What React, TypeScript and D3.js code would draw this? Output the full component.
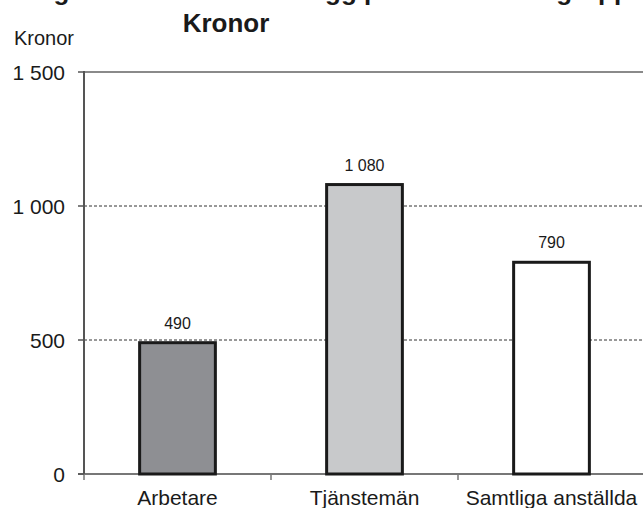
import React from "react";
import * as d3 from "d3";

const categories = ["Arbetare", "Tjänstemän", "Samtliga anställda"];
const values = [490, 1080, 790];
const valueLabels = ["490", "1 080", "790"];
const fills = ["#8e8f93", "#c8c9cb", "#ffffff"];
const yTicks = [0, 500, 1000, 1500];
const yTickLabels = ["0", "500", "1 000", "1 500"];

const width = 643;
const height = 508;
const left = 84;
const top = 72;
const bottom = 474;

const App = () => {
  const x = d3.scaleBand().domain(categories).range([left, left + 3 * 187]).paddingInner(0).paddingOuter(0);
  const y = d3.scaleLinear().domain([0, 1500]).range([bottom, top]);
  const barW = x.bandwidth() * 0.405;
  const font = "Arial, 'Liberation Sans', sans-serif";

  return (
    <svg
      width={width}
      height={height}
      style={{ position: "absolute", left: 0, top: 0, background: "#fff" }}
      fontFamily={font}
    >
      {/* title, first line is cut off by the top edge like in the source */}
      <text x={13} y={0} fontSize={26} fontWeight="bold" fill="#1a1a1a">
        Diagram 2. Medellönetillägg per månad och grupp
      </text>
      <text x={226} y={32} fontSize={26} fontWeight="bold" fill="#1a1a1a" textAnchor="middle">
        Kronor
      </text>
      <text x={14} y={45} fontSize={20} fill="#1a1a1a">
        Kronor
      </text>

      {/* gridlines */}
      {yTicks.slice(1, 3).map((t) => (
        <line key={t} x1={left} x2={width} y1={y(t)} y2={y(t)} stroke="#333" strokeDasharray="3,2" strokeWidth={1} />
      ))}
      <line x1={left} x2={width} y1={y(1500)} y2={y(1500)} stroke="#8a8a8a" strokeWidth={2} />

      {/* x axis */}
      <line x1={left - 6} x2={width} y1={bottom} y2={bottom} stroke="#777" strokeWidth={2} />
      {categories.map((c) => (
        <line key={c} x1={x(c) as number} x2={x(c) as number} y1={bottom} y2={bottom + 6} stroke="#777" strokeWidth={1.5} />
      ))}

      {/* bars */}
      {categories.map((c, i) => {
        const cx = (x(c) as number) + x.bandwidth() / 2;
        return (
          <g key={c}>
            <rect
              x={cx - barW / 2}
              y={y(values[i])}
              width={barW}
              height={bottom - y(values[i])}
              fill={fills[i]}
              stroke="#1a1a1a"
              strokeWidth={3}
            />
            <text x={cx} y={y(values[i]) - 14} fontSize={16} textAnchor="middle" fill="#1a1a1a">
              {valueLabels[i]}
            </text>
            <text x={cx} y={505} fontSize={21} textAnchor="middle" fill="#1a1a1a">
              {c}
            </text>
          </g>
        );
      })}

      {/* y axis */}
      <line x1={left} x2={left} y1={top - 1} y2={bottom} stroke="#555" strokeWidth={2} />
      {yTicks.map((t, i) => (
        <g key={t}>
          <line x1={left - 6} x2={left} y1={y(t)} y2={y(t)} stroke="#555" strokeWidth={1.5} />
          <text x={65} y={y(t) + 7.5} fontSize={21} textAnchor="end" fill="#1a1a1a">
            {yTickLabels[i]}
          </text>
        </g>
      ))}
    </svg>
  );
};

export default App;
